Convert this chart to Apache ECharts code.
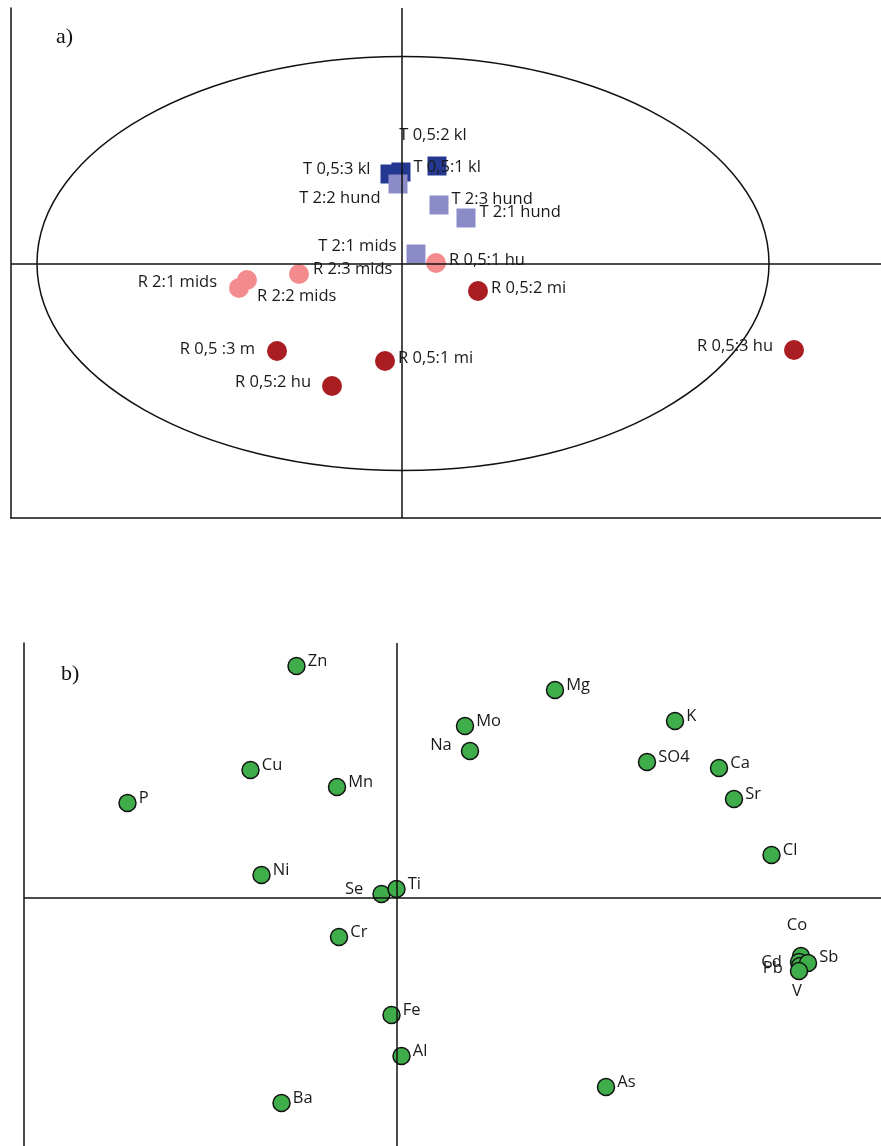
<!DOCTYPE html>
<html>
<head>
<meta charset="utf-8">
<script src="https://cdn.jsdelivr.net/npm/echarts@6/dist/echarts.min.js"></script>
<style>
html,body{margin:0;padding:0;background:#fff;}
#c{width:881px;height:1146px;}
</style>
</head>
<body>
<div id="c"></div>
<script>
// ---------- Panel a data (scores) ----------
const tKlNames = ['T 0,5:3 kl', 'T 0,5:1 kl', 'T 0,5:2 kl'];
const tKlX = [-0.12, -0.01, 0.35];
const tKlY = [0.895, 0.915, 0.975];

const tHundNames = ['T 2:2 hund', 'T 2:3 hund', 'T 2:1 hund', 'T 2:1 mids'];
const tHundX = [-0.04, 0.37, 0.64, 0.14];
const tHundY = [0.795, 0.585, 0.455, 0.095];

const rMidsNames = ['R 0,5:1 hu', 'R 2:3 mids', 'R 2:1 mids', 'R 2:2 mids'];
const rMidsX = [0.34, -1.03, -1.55, -1.63];
const rMidsY = [0.005, -0.105, -0.165, -0.245];

const rDarkNames = ['R 0,5:2 mi', 'R 0,5 :3 m', 'R 0,5:1 mi', 'R 0,5:2 hu', 'R 0,5:3 hu'];
const rDarkX = [0.76, -1.25, -0.17, -0.70, 3.92];
const rDarkY = [-0.275, -0.875, -0.975, -1.225, -0.865];

const ellipseCenter = [0.01, 0];
const ellipseRadii = [3.66, 2.07];

// ---------- Panel b data (loadings) ----------
const elemNames = ['Zn', 'Mg', 'Mo', 'Na', 'K', 'SO4', 'Ca', 'Cu', 'Mn', 'P', 'Sr', 'Cl', 'Ni', 'Se', 'Ti', 'Cr', 'Co', 'Cd', 'Pb', 'Sb', 'V', 'Fe', 'Al', 'As', 'Ba'];
const elemX = [-1.00, 1.585, 0.685, 0.735, 2.785, 2.505, 3.225, -1.46, -0.595, -2.69, 3.375, 3.75, -1.35, -0.15, 0.00, -0.575, 4.045, 4.025, 4.035, 4.115, 4.025, -0.05, 0.05, 2.095, -1.15];
const elemY = [2.32, 2.08, 1.72, 1.47, 1.77, 1.36, 1.30, 1.28, 1.11, 0.95, 0.99, 0.43, 0.23, 0.04, 0.09, -0.39, -0.58, -0.64, -0.68, -0.65, -0.73, -1.17, -1.58, -1.89, -2.05];

// ---------- label placement (style) ----------
const labelPlace = {
  'T 0,5:3 kl': ['left', 10, [0, -5]],
  'T 0,5:1 kl': ['right', 3, [0, -5]],
  'T 0,5:2 kl': ['top', 13, [-4, 0]],
  'T 2:2 hund': ['left', 8, [0, 14]],
  'T 2:3 hund': ['right', 3, [0, -6]],
  'T 2:1 hund': ['right', 4, [0, -6]],
  'T 2:1 mids': ['left', 10, [0, -8]],
  'R 0,5:1 hu': ['right', 3, [0, -3]],
  'R 2:3 mids': ['right', 4, [0, -5]],
  'R 2:1 mids': ['left', 20, [0, 2]],
  'R 2:2 mids': ['right', 8, [0, 8]],
  'R 0,5:2 mi': ['right', 3, [0, -3]],
  'R 0,5 :3 m': ['left', 12, [0, -2]],
  'R 0,5:1 mi': ['right', 3, [0, -3]],
  'R 0,5:2 hu': ['left', 11, [0, -4]],
  'R 0,5:3 hu': ['left', 11, [0, -4]],
  'Na': ['left', 9, [0, -6]],
  'Se': ['left', 9, [0, -5]],
  'Co': ['top', 13, [-4, 0]],
  'Cd': ['left', 8, [0, 0]],
  'Pb': ['left', 8, [0, 2]],
  'Sb': ['right', 2, [0, -6]],
  'V': ['bottom', 3, [-2, 0]]
};
const defaultPlace = ['right', 2, [0, -5]];

function build(names, xs, ys) {
  return names.map((n, i) => {
    const p = labelPlace[n] || defaultPlace;
    return { name: n, value: [xs[i], ys[i]], label: { position: p[0], distance: p[1], offset: p[2] } };
  });
}

const FONT = '"Open Sans", "Noto Sans", sans-serif';
const labelStyle = { show: true, formatter: '{b}', color: '#1a1a1a', fontSize: 16.5, fontFamily: FONT };
const lineCol = '#111';

const chart = echarts.init(document.getElementById('c'), null, { renderer: 'canvas' });

const option = {
  animation: false,
  backgroundColor: '#fff',
  grid: [
    { left: 11, right: 0, top: 8, height: 510 },
    { left: 24, right: 0, top: 643, bottom: 0 }
  ],
  xAxis: [
    { gridIndex: 0, type: 'value', min: -3.91, max: 4.79, axisLine: { show: true, onZero: false, lineStyle: { color: lineCol, width: 1.5 } }, axisTick: { show: false }, axisLabel: { show: false }, splitLine: { show: false } },
    { gridIndex: 1, type: 'value', min: -3.725, max: 4.845, axisLine: { show: false, onZero: false }, axisTick: { show: false }, axisLabel: { show: false }, splitLine: { show: false } }
  ],
  yAxis: [
    { gridIndex: 0, type: 'value', min: -2.545, max: 2.555, axisLine: { show: true, onZero: false, lineStyle: { color: lineCol, width: 1.5 } }, axisTick: { show: false }, axisLabel: { show: false }, splitLine: { show: false } },
    { gridIndex: 1, type: 'value', min: -2.48, max: 2.55, axisLine: { show: true, onZero: false, lineStyle: { color: lineCol, width: 1.5 } }, axisTick: { show: false }, axisLabel: { show: false }, splitLine: { show: false } }
  ],
  graphic: [
    { type: 'text', left: 56, top: 26, style: { text: 'a)', font: '22px "Liberation Serif", "DejaVu Serif", serif', fill: '#111' } },
    { type: 'text', left: 61, top: 663, style: { text: 'b)', font: '22px "Liberation Serif", "DejaVu Serif", serif', fill: '#111' } }
  ],
  series: [
    {
      type: 'custom', xAxisIndex: 0, yAxisIndex: 0, z: 1, silent: true,
      data: [[ellipseCenter[0], ellipseCenter[1], ellipseRadii[0], ellipseRadii[1]]],
      renderItem: function (params, api) {
        const c = api.coord([api.value(0), api.value(1)]);
        const s = api.size([api.value(2), api.value(3)]);
        return { type: 'ellipse', shape: { cx: c[0], cy: c[1], rx: s[0], ry: s[1] }, style: { fill: 'none', stroke: lineCol, lineWidth: 1.5 } };
      },
      markLine: {
        silent: true, symbol: 'none', label: { show: false },
        lineStyle: { color: lineCol, width: 1.5, type: 'solid' },
        data: [{ xAxis: 0 }, { yAxis: 0 }]
      }
    },
    {
      type: 'scatter', xAxisIndex: 0, yAxisIndex: 0, z: 3, symbol: 'rect', symbolSize: 19,
      itemStyle: { color: '#243892', opacity: 1 }, label: labelStyle,
      data: build(tKlNames, tKlX, tKlY)
    },
    {
      type: 'scatter', xAxisIndex: 0, yAxisIndex: 0, z: 4, symbol: 'rect', symbolSize: 19,
      itemStyle: { color: '#8b8cc7', opacity: 1 }, label: labelStyle,
      data: build(tHundNames, tHundX, tHundY)
    },
    {
      type: 'scatter', xAxisIndex: 0, yAxisIndex: 0, z: 4, symbol: 'circle', symbolSize: 20,
      itemStyle: { color: '#f38b8e', opacity: 1 }, label: labelStyle,
      data: build(rMidsNames, rMidsX, rMidsY)
    },
    {
      type: 'scatter', xAxisIndex: 0, yAxisIndex: 0, z: 4, symbol: 'circle', symbolSize: 20,
      itemStyle: { color: '#aa1e23', opacity: 1 }, label: labelStyle,
      data: build(rDarkNames, rDarkX, rDarkY)
    },
    {
      type: 'scatter', xAxisIndex: 1, yAxisIndex: 1, z: 1, data: [], silent: true,
      markLine: {
        silent: true, symbol: 'none', label: { show: false },
        lineStyle: { color: lineCol, width: 1.5, type: 'solid' },
        data: [{ xAxis: 0 }, { yAxis: 0 }]
      }
    },
    {
      type: 'scatter', xAxisIndex: 1, yAxisIndex: 1, z: 4, symbol: 'circle', symbolSize: 17,
      itemStyle: { color: '#3fad49', borderColor: '#111', borderWidth: 1.5, opacity: 1 }, label: labelStyle,
      data: build(elemNames, elemX, elemY)
    }
  ]
};
chart.setOption(option);
</script>
</body>
</html>
